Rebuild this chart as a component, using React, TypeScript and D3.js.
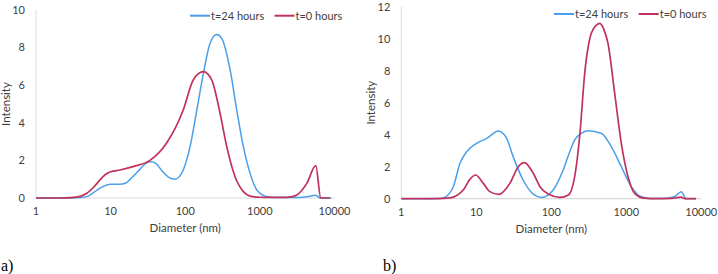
import React from 'react'
import * as d3 from 'd3'

// [diameter nm, intensity]
const a24: [number, number][] = [
  [1, 0], [2, 0], [3, 0], [4, 0.02], [5, 0.1], [6.5, 0.4], [8, 0.62], [10, 0.73], [13, 0.73],
  [16, 0.8], [20, 1.15], [25, 1.55], [30, 1.85], [35, 1.93], [40, 1.85], [50, 1.4], [60, 1.1],
  [73, 1.0], [84, 1.15], [94, 1.49], [116, 2.73], [143, 4.68], [175, 6.63], [215, 8.23],
  [264, 8.7], [308, 8.49], [400, 6.8], [490, 4.68], [601, 2.73], [739, 1.31], [908, 0.43],
  [1175, 0.1], [1500, 0.03], [2000, 0.02], [3000, 0.02], [4000, 0.05], [5000, 0.12], [5500, 0.15],
  [6000, 0.08], [6400, 0], [9000, 0],
]
const a0: [number, number][] = [
  [1, 0], [2, 0], [2.9, 0.02], [4, 0.1], [4.8, 0.25], [6, 0.6], [7.2, 0.96], [8.5, 1.25], [10, 1.4],
  [13.4, 1.49], [20, 1.67], [33.7, 2.0], [56, 2.91], [94, 4.68], [128, 6.28], [175, 6.72],
  [226, 6.28], [293, 4.5], [360, 2.73], [465, 1.13], [601, 0.34], [739, 0.1], [1000, 0.04],
  [1500, 0.03], [2000, 0.03], [2600, 0.06], [3123, 0.16], [4255, 0.78], [5610, 1.72], [6550, 0],
  [8730, 0],
]
const b24: [number, number][] = [
  [1, 0], [2, 0], [3.2, 0.01], [3.63, 0.05], [4.93, 0.75], [6.06, 2.21], [7.45, 2.94], [10.1, 3.46],
  [13.8, 3.77], [19.7, 4.23], [25.4, 3.77], [31, 2.63], [42, 1.17], [57.5, 0.29], [74.5, 0.08],
  [106, 0.54], [144, 1.79], [175, 2.9], [205, 3.67], [250, 4.08], [308, 4.25], [464, 4.09],
  [631, 3.25], [858, 2.0], [1166, 0.75], [1585, 0.125], [2200, 0.02], [3500, 0.03], [4500, 0.15],
  [5400, 0.44], [6300, 0], [8500, 0],
]
const b0: [number, number][] = [
  [1, 0], [3, 0], [4.46, 0.05], [5.5, 0.2], [6.7, 0.54], [8.2, 1.21], [9.8, 1.48], [12.4, 0.96],
  [15.2, 0.44], [19.7, 0.27], [28, 0.96], [36.3, 2.0], [43.6, 2.25], [57.5, 1.59], [70.6, 0.75],
  [91, 0.29], [130, 0.08], [169, 0.23], [218, 2.21], [241, 4.09], [279, 7.84], [341, 10.34],
  [400, 10.85], [442, 10.96], [500, 10.6], [570, 9.71], [700, 6.59], [858, 3.46], [1054, 1.37],
  [1294, 0.33], [1700, 0.04], [2500, 0], [4000, 0.02], [5400, 0.1], [6000, 0], [8500, 0],
]

const xTicks = [1, 10, 100, 1000, 10000]
const aYTicks = [0, 2, 4, 6, 8, 10]
const bYTicks = [0, 2, 4, 6, 8, 10, 12]
const seriesNames = ['t=24 hours', 't=0 hours']

const BLUE = '#4a9fea'
const RED = '#c0325c'
const FONT = 'Lato, "Open Sans", sans-serif'

function Panel(props: {
  left: number; right: number; top: number; bottom: number
  yMax: number; yTicks: number[]; s24: [number, number][]; s0: [number, number][]
  legendX: number; legendY: number; gap: number; tag: string; tagX: number
}) {
  const { left, right, top, bottom, yMax, yTicks, s24, s0, legendX, legendY, gap, tag, tagX } = props
  const x = d3.scaleLog().domain([1, 10000]).range([left, right])
  const y = d3.scaleLinear().domain([0, yMax]).range([bottom, top])
  const line = d3.line<[number, number]>()
    .x(d => x(d[0]))
    .y(d => y(d[1]))
    .curve(d3.curveMonotoneX)

  return (
    <g>
      <line x1={left} x2={left} y1={top} y2={bottom} stroke="#e3e3e3" strokeWidth={1.2} />
      <line x1={left} x2={right} y1={bottom} y2={bottom} stroke="#d9d9d9" strokeWidth={1.2} />
      {yTicks.map(t => (
        <text key={t} x={left - 11} y={y(t)} dy="0.35em" textAnchor="end" fontSize={11}
          fontFamily={FONT} fill="#404040">{t}</text>
      ))}
      {xTicks.map(t => (
        <text key={t} x={x(t)} y={bottom + 17} textAnchor="middle" fontSize={11}
          fontFamily={FONT} fill="#404040">{t}</text>
      ))}
      <text x={(left + right) / 2} y={bottom + 34} textAnchor="middle" fontSize={11.5}
        fontFamily={FONT} fill="#404040">Diameter (nm)</text>
      <text transform={`translate(${left - 26},${(top + bottom) / 2}) rotate(-90)`} textAnchor="middle"
        fontSize={11.5} fontFamily={FONT} fill="#404040">Intensity</text>
      <path d={line(s24) || ''} fill="none" stroke={BLUE} strokeWidth={1.5} />
      <path d={line(s0) || ''} fill="none" stroke={RED} strokeWidth={1.7} />
      {seriesNames.map((n, i) => {
        const lx = legendX + i * gap
        return (
          <g key={n}>
            <line x1={lx} x2={lx + 20} y1={legendY} y2={legendY} stroke={i === 0 ? BLUE : RED} strokeWidth={2} />
            <text x={lx + 21} y={legendY} dy="0.35em" fontSize={11} fontFamily={FONT} fill="#404040">{n}</text>
          </g>
        )
      })}
      <text x={tagX} y={271} fontSize={16} fontFamily='"Liberation Serif", "DejaVu Serif", serif' fill="#000">{tag}</text>
    </g>
  )
}

export default function App() {
  return (
    <svg width={718} height={274} style={{ position: 'absolute', left: 0, top: 0, background: '#fff' }}>
      <Panel left={36} right={334.5} top={10} bottom={198} yMax={10} yTicks={aYTicks} s24={a24} s0={a0}
        legendX={190} legendY={15.7} gap={84.5} tag="a)" tagX={1} />
      <Panel left={401.3} right={701.3} top={6.7} bottom={198.7} yMax={12} yTicks={bYTicks} s24={b24} s0={b0}
        legendX={554} legendY={14} gap={84.7} tag="b)" tagX={383} />
    </svg>
  )
}
